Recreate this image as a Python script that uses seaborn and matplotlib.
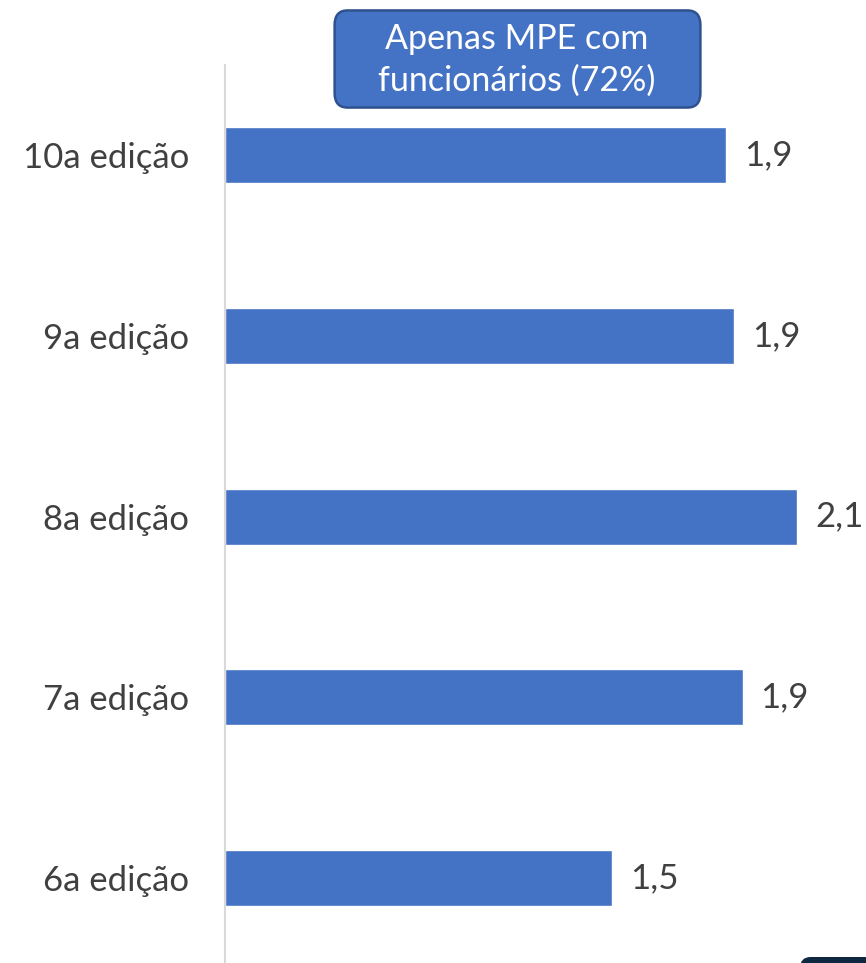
import numpy as np
import pandas as pd
import matplotlib.pyplot as plt
import seaborn as sns
from matplotlib.patches import FancyBboxPatch

editions = ["10a edição", "9a edição", "8a edição", "7a edição", "6a edição"]
values = [1.84, 1.87, 2.10, 1.90, 1.42]
value_labels = ["1,9", "1,9", "2,1", "1,9", "1,5"]
box_text = "Apenas MPE com\nfuncionários (72%)"

data = pd.DataFrame({"edicao": editions, "valor": values})

sns.set_style("white")
plt.rcParams["font.family"] = ["Lato", "DejaVu Sans"]

fig = plt.figure(figsize=(8.66, 9.63), dpi=100)
ax = fig.add_axes([225 / 866, 0, 641 / 866, 898 / 963])

sns.barplot(data=data, x="valor", y="edicao", orient="h", color="#4472C4",
            saturation=1, width=0.31, ax=ax)

ax.set_xlim(0, 641 / (572 / 2.1))
ax.set_ylim(4.47, -0.5)
ax.set_xlabel("")
ax.set_ylabel("")
ax.set_xticks([])
ax.tick_params(axis="y", length=0, pad=26, labelsize=25, labelcolor="#404040")
for s in ["top", "right", "bottom"]:
    ax.spines[s].set_visible(False)
ax.spines["left"].set_color("#D9D9D9")
ax.spines["left"].set_linewidth(1.5)

for i, (v, lab) in enumerate(zip(values, value_labels)):
    ax.annotate(lab, xy=(v, i), xytext=(13, 0), textcoords="offset points",
                va="center", ha="left", fontsize=25, color="#404040")

# caixa do título
box = FancyBboxPatch((345 / 866, 1 - 96 / 963), 345 / 866, 74 / 963,
                     boxstyle="round,pad=0.012,rounding_size=0.015",
                     transform=fig.transFigure, facecolor="#4472C4",
                     edgecolor="#2F528F", linewidth=1.8)
fig.patches.append(box)
fig.text(517 / 866, 1 - 60 / 963, box_text, ha="center", va="center",
         fontsize=24.5, color="white", linespacing=1.4)

# canto escuro no rodapé
corner = FancyBboxPatch((800 / 866, -20 / 963), 80 / 866, 26 / 963,
                        boxstyle="round,pad=0,rounding_size=0.012",
                        transform=fig.transFigure, facecolor="#0E2841",
                        edgecolor="none")
fig.patches.append(corner)

plt.savefig("out.png", dpi=100)
